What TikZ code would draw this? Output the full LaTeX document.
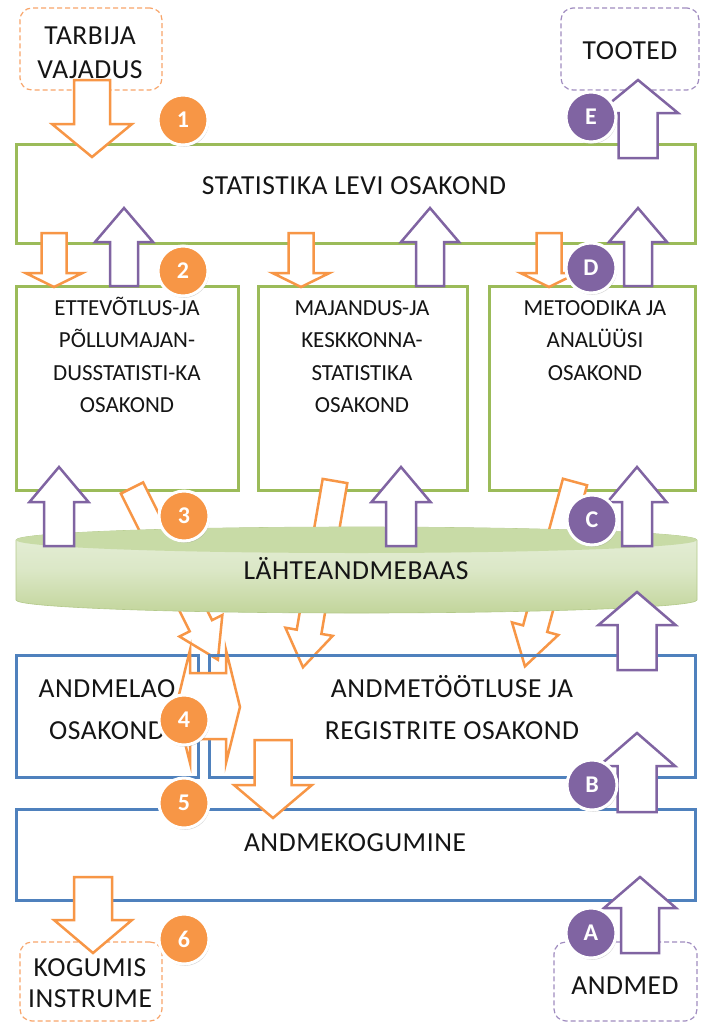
\documentclass[tikz,border=0pt]{standalone}
\usepackage{fontspec}
\setmainfont{Carlito}[LetterSpace=2]
\newfontfamily\rowfont{Carlito}[LetterSpace=0]
\usetikzlibrary{shadows}
\definecolor{orangeC}{HTML}{F79646}
\definecolor{purpleC}{HTML}{8064A2}
\definecolor{greenC}{HTML}{9BBB59}
\definecolor{blueC}{HTML}{4F81BD}
\definecolor{textC}{HTML}{151515}
\definecolor{dashO}{HTML}{F8A56A}
\definecolor{dashP}{HTML}{A08CC0}
\definecolor{cylTop}{HTML}{C8DBA6}
\definecolor{cylA}{HTML}{E6EFD9}
\definecolor{cylB}{HTML}{C2D59B}
\definecolor{cylEdge}{HTML}{B3C98A}
% #1 style, #2 x, #3 y (start, px), #4 angle, #5 length, #6 half shaft, #7 half head, #8 head length
\newcommand{\blockarrow}[8]{%
  \begin{scope}[shift={(#2,#3)},rotate=#4]
    \draw[#1] (0,-#6) -- ({#5-#8},-#6) -- ({#5-#8},-#7) -- (#5,0) -- ({#5-#8},#7) -- ({#5-#8},#6) -- (0,#6) -- cycle;
  \end{scope}}
\begin{document}
\begin{tikzpicture}[x=1pt,y=-1pt,
  every node/.style={inner sep=0pt,outer sep=0pt},
  gbox/.style={draw=greenC,line width=3pt,anchor=north west},
  bbox/.style={draw=blueC,line width=3pt,anchor=north west},
  obox/.style={draw=dashO,line width=1.2pt,dash pattern=on 5pt off 3pt,rounded corners=12pt,anchor=north west},
  pbox/.style={draw=dashP,line width=1.2pt,dash pattern=on 5pt off 3pt,rounded corners=12pt,anchor=north west},
  oarr/.style={draw=orangeC,fill=white,line width=2.5pt},
  parr/.style={draw=purpleC,fill=white,line width=2.5pt},
  big/.style={anchor=base,font=\fontsize{27.5}{27.5}\selectfont,text=textC},
  small/.style={anchor=base,font=\rowfont\fontsize{23}{23}\selectfont,text=textC},
  badge/.style={circle,draw=white,line width=3pt,minimum size=50pt,text=white,
    font=\fontsize{24}{24}\selectfont\bfseries,
    drop shadow={opacity=0.35,shadow xshift=1pt,shadow yshift=-1.8pt}},
  obadge/.style={badge,fill=orangeC},
  pbadge/.style={badge,fill=purpleC}]
\fill[white] (0,0) rectangle (702,1023);
\useasboundingbox (0,0) rectangle (702,1023);

% dashed end boxes
\node[obox,minimum width=142pt,minimum height=82pt] (tarbija) at (20,8) {};
\node[pbox,minimum width=138pt,minimum height=82pt] (tooted) at (561,8) {};
\node[obox,minimum width=142pt,minimum height=79pt] (kogumis) at (20,942) {};
\node[pbox,minimum width=143pt,minimum height=79pt] (andmed) at (554,942) {};

% green boxes
\node[gbox,minimum width=679pt,minimum height=99pt] (levi) at (16,144) {};
\node[gbox,minimum width=222pt,minimum height=204pt] (ette) at (16,286) {};
\node[gbox,minimum width=209pt,minimum height=204pt] (maj) at (258,286) {};
\node[gbox,minimum width=206pt,minimum height=204pt] (met) at (489,286) {};

% slanted orange arrows (partly hidden by the database)
\blockarrow{oarr}{132}{488}{-63.43}{192}{12.5}{24}{38}
\blockarrow{oarr}{335}{481}{-99.76}{189}{12.5}{24}{36}
\blockarrow{oarr}{575}{482}{-105.2}{191}{12.5}{24}{39}

% database cylinder
\shade[top color=cylA,bottom color=cylB,middle color=cylA!70!cylB,draw=cylEdge,line width=0.6pt]
  (16,540) -- (16,600) arc[start angle=180,end angle=0,x radius=340.5,y radius=13]
  -- (697,540) arc[start angle=0,end angle=-180,x radius=340.5,y radius=13] -- cycle;
\fill[cylTop] (356.5,540) ellipse[x radius=340.5,y radius=13];
\node[big] (baas) at (356,579) {LÄHTEANDMEBAAS};

% blue boxes
\node[bbox,minimum width=182pt,minimum height=122pt] (lao) at (16,655) {};
\node[bbox,minimum width=486pt,minimum height=122pt] (tootlus) at (209,655) {};
\node[bbox,minimum width=679pt,minimum height=91pt] (kog) at (16,809) {};

% orange arrows
\blockarrow{oarr}{92}{80}{-90}{77}{18}{40}{33}
\blockarrow{oarr}{54}{233}{-90}{54}{12.5}{28.5}{14}
\blockarrow{oarr}{301}{233}{-90}{54}{12.5}{28.5}{14}
\blockarrow{oarr}{549}{233}{-90}{54}{12.5}{28.5}{14}
\blockarrow{oarr}{273}{740}{-90}{78}{18.5}{39}{33}
\blockarrow{oarr}{93}{877}{-90}{76}{19}{39}{33}
\draw[oarr] (176,707) -- (190,650) -- (190,673) -- (226,673) -- (226,650) -- (240,707)
  -- (226,763) -- (226,739) -- (190,739) -- (190,763) -- cycle;

% purple arrows
\blockarrow{parr}{124}{286}{90}{78}{14}{29}{34}
\blockarrow{parr}{430}{286}{90}{78}{14}{29}{34}
\blockarrow{parr}{638}{286}{90}{78}{14}{29}{34}
\blockarrow{parr}{638}{158}{90}{78}{19.5}{40}{33}
\blockarrow{parr}{59}{546}{90}{79}{15}{29.5}{35}
\blockarrow{parr}{401}{546}{90}{79}{15}{29.5}{35}
\blockarrow{parr}{637}{546}{90}{79}{15}{29.5}{35}
\blockarrow{parr}{637}{670}{90}{78}{19.5}{38.5}{33}
\blockarrow{parr}{637}{812}{90}{79}{19.5}{38}{33}
\blockarrow{parr}{640}{953}{90}{76}{19}{36}{31}

% texts
\node[big] (tarbijaA) at (90,44) {TARBIJA};
\node[big] (tarbijaB) at (90,78) {VAJADUS};
\node[big] (tootedT) at (630,59) {TOOTED};
\node[big] (leviT) at (354,194) {STATISTIKA LEVI OSAKOND};
\node[small] (etteA) at (127,315) {ETTEVÕTLUS-JA};
\node[small] (etteB) at (127,347) {PÕLLUMAJAN-};
\node[small] (etteC) at (127,380) {DUSSTATISTI-KA};
\node[small] (etteD) at (127,412) {OSAKOND};
\node[small] (majA) at (362,315) {MAJANDUS-JA};
\node[small] (majB) at (362,347) {KESKKONNA-};
\node[small] (majC) at (362,380) {STATISTIKA};
\node[small] (majD) at (362,412) {OSAKOND};
\node[small] (metA) at (595,315) {METOODIKA JA};
\node[small] (metB) at (595,347) {ANALÜÜSI};
\node[small] (metC) at (595,380) {OSAKOND};
\node[big] (laoA) at (107,697) {ANDMELAO};
\node[big] (laoB) at (107,739) {OSAKOND};
\node[big] (tootA) at (452,697) {ANDMETÖÖTLUSE JA};
\node[big] (tootB) at (452,739) {REGISTRITE OSAKOND};
\node[big] (kogT) at (355,851) {ANDMEKOGUMINE};
\node[big] (kogumisA) at (90,976) {KOGUMIS};
\node[big] (kogumisB) at (90,1007) {INSTRUME};
\node[big] (andmedT) at (625,994) {ANDMED};

% badges
\node[obadge] (b1) at (183,120) {1};
\node[obadge] (b2) at (183,271) {2};
\node[obadge] (b3) at (184,516) {3};
\node[obadge] (b4) at (184,720) {4};
\node[obadge] (b5) at (184,803) {5};
\node[obadge] (b6) at (184,939) {6};
\node[pbadge] (bE) at (591,117) {E};
\node[pbadge] (bD) at (591,268) {D};
\node[pbadge] (bC) at (592,520) {C};
\node[pbadge] (bB) at (592,785) {B};
\node[pbadge] (bA) at (591,933) {A};
\end{tikzpicture}
\end{document}
